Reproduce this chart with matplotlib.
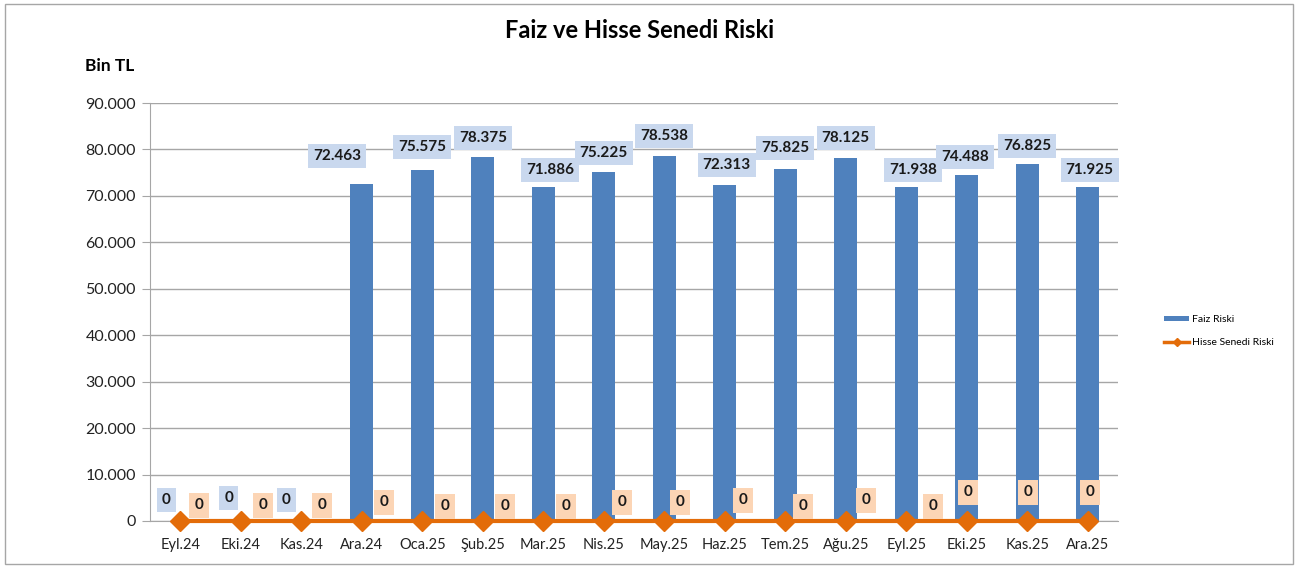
import matplotlib
matplotlib.use("Agg")
import matplotlib.pyplot as plt
from matplotlib.patches import Rectangle
from matplotlib.lines import Line2D
from matplotlib.ticker import FuncFormatter

plt.rcParams['font.family'] = ['Lato', 'DejaVu Sans']

# ---- data ----
categories = ["Eyl.24", "Eki.24", "Kas.24", "Ara.24", "Oca.25", "Şub.25", "Mar.25", "Nis.25",
              "May.25", "Haz.25", "Tem.25", "Ağu.25", "Eyl.25", "Eki.25", "Kas.25", "Ara.25"]
faiz_riski = [0, 0, 0, 72463, 75575, 78375, 71886, 75225, 78538, 72313, 75825, 78125,
              71938, 74488, 76825, 71925]
hisse_riski = [0] * 16
title = "Faiz ve Hisse Senedi Riski"
unit_label = "Bin TL"
series_names = ["Faiz Riski", "Hisse Senedi Riski"]

# ---- layout (label offsets in pixels) ----
bar_lbl_dx = [-14, -12, -15, -25, 0, 0, 7, 0, 0, 2, 0, 0, 7, -2, 0, 2]
bar_lbl_dy = [21, 23, 21, 28, 23, 19, 17, 19, 20, 20, 21, 20, 17, 18, 18, 17]
hs_lbl_dx = [19, 22, 21, 22, 23, 22, 23, 18, 16, 18, 18, 20, 27, 1, 1, 2]
hs_lbl_dy = [16, 16, 16, 19, 15, 15, 15, 19, 19, 21, 15, 21, 15, 29, 29, 29]

W, H = 1299, 571
fig = plt.figure(figsize=(W / 100, H / 100), dpi=100)
fig.patches.append(Rectangle((5 / W, 7 / H), 1288 / W, 560 / H, transform=fig.transFigure,
                             fill=False, edgecolor='#A6A6A6', linewidth=1))

ax = fig.add_axes([150 / W, 1 - 521 / H, 968 / W, 418 / H])
x = list(range(len(categories)))
blue = '#4F81BD'
orange = '#E36C09'

ax.bar(x, faiz_riski, width=0.38, color=blue, zorder=2)
ax.plot(x, hisse_riski, color=orange, linewidth=3, marker='D', markersize=10,
        markeredgecolor=orange, zorder=4, clip_on=False)

ax.set_xlim(-0.5, len(categories) - 0.5)
ax.set_ylim(0, 90000)
ax.set_yticks(range(0, 90001, 10000))
ax.yaxis.set_major_formatter(FuncFormatter(lambda v, p: f"{int(v):,}".replace(",", ".")))
ax.set_xticks(x)
ax.set_xticklabels(categories)
ax.grid(axis='y', color='#A6A6A6', linewidth=1, zorder=0)
ax.set_axisbelow(True)
for s in ['top', 'right']:
    ax.spines[s].set_visible(False)
ax.spines['left'].set_color('#A6A6A6')
ax.spines['bottom'].set_color('#A6A6A6')
ax.tick_params(axis='y', length=6, color='#A6A6A6', labelsize=11.5, pad=4, labelcolor='#222222')
ax.tick_params(axis='x', length=0, labelsize=10.5, pad=12, labelcolor='#222222')

fmt = lambda v: f"{int(v):,}".replace(",", ".")
for i, v in enumerate(faiz_riski):
    ax.annotate(fmt(v), xy=(i, v), xytext=(bar_lbl_dx[i], bar_lbl_dy[i]),
                textcoords='offset pixels', ha='center', va='center', fontsize=11,
                fontweight='bold', color='#1a1a1a', zorder=5,
                bbox=dict(boxstyle='square,pad=0.33', facecolor='#C9D8EE', edgecolor='none'))
for i, v in enumerate(hisse_riski):
    ax.annotate(fmt(v), xy=(i, v), xytext=(hs_lbl_dx[i], hs_lbl_dy[i]),
                textcoords='offset pixels', ha='center', va='center', fontsize=11,
                fontweight='bold', color='#1a1a1a', zorder=5,
                bbox=dict(boxstyle='square,pad=0.36', facecolor='#FCD5B5', edgecolor='none'))

fig.text(640 / W, 1 - 30 / H, title, ha='center', va='center', fontsize=17, fontweight='bold')
fig.text(85 / W, 1 - 66 / H, unit_label, ha='left', va='center', fontsize=12.5, fontweight='bold')

handles = [Rectangle((0, 0), 1, 1, facecolor=blue, edgecolor='none'),
           Line2D([0], [0], color=orange, linewidth=2.5, marker='D', markersize=4)]
fig.legend(handles, series_names, loc='center left', bbox_to_anchor=(1155 / W, 1 - 331 / H),
           frameon=False, fontsize=7.5, handlelength=2.4, handleheight=0.4,
           labelspacing=1.3, handletextpad=0.3)

fig.savefig("out.png", dpi=100)
